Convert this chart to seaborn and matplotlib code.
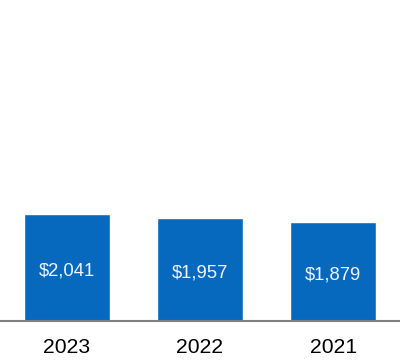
import pandas as pd
import seaborn as sns
import matplotlib.pyplot as plt

years = ["2023", "2022", "2021"]
values = [2041, 1957, 1879]
labels = ["$2,041", "$1,957", "$1,879"]

df = pd.DataFrame({"Year": years, "Value": values})

sns.set_style("white")
plt.rcParams["font.family"] = ["Liberation Sans", "DejaVu Sans"]

fig = plt.figure(figsize=(4, 3.6), dpi=100)
ax = fig.add_axes([0, 39 / 360, 1, 321 / 360])
sns.barplot(data=df, x="Year", y="Value", color="#0769be", saturation=1,
            width=0.645, ax=ax)

for i, v in enumerate(values):
    ax.text(i, v / 2 - 60, labels[i], ha="center", va="center",
            color="#f2f6fb", fontsize=13.3)

ax.set_xlim(-0.5, 2.5)
ax.set_ylim(0, 6120)
ax.set_xlabel("")
ax.set_ylabel("")
ax.set_yticks([])
ax.tick_params(axis="x", length=0, pad=12.5, labelsize=15.2, colors="#000000")
for s in ["top", "right", "left"]:
    ax.spines[s].set_visible(False)
ax.spines["bottom"].set_color("#7f7f7f")
ax.spines["bottom"].set_linewidth(1.5)

fig.savefig("out.png", dpi=100)
